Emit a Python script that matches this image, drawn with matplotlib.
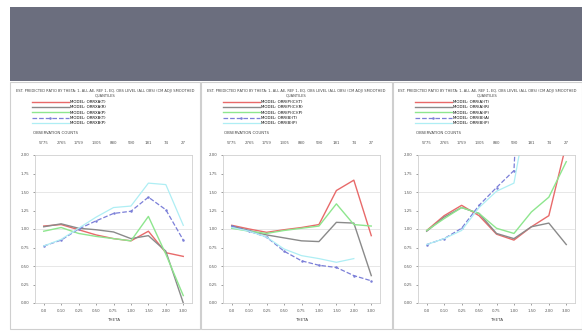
import numpy as np
import matplotlib.pyplot as plt
from matplotlib.patches import Rectangle

W, H = 582, 331

theta = ['0.0', '0.10', '0.25', '0.50', '0.75', '1.00', '1.50', '2.00', '3.00']
counts = ['5775', '2765', '1759', '1305', '880', '590', '181', '74', '27']
yticks = [0.0, 0.25, 0.5, 0.75, 1.0, 1.25, 1.5, 1.75, 2.0]

title = ('EST. PREDICTED RATIO BY THETA: 1, ALL AE, REF 1, EQ. OBS LEVEL (ALL OBS) (CM ADJ) SMOOTHED\n'
         'QUANTILES')

# panel 1
p1_labels = ['MODEL: ORRXA(T)', 'MODEL: ORRXA(R)', 'MODEL: ORRXA(P)', 'MODEL: ORRXB(T)', 'MODEL: ORRXB(P)']
p1_red = [1.04, 1.06, 0.99, 0.92, 0.87, 0.84, 0.97, 0.68, 0.63]
p1_gray = [1.03, 1.07, 1.01, 0.99, 0.96, 0.87, 0.91, 0.70, 0.00]
p1_green = [0.97, 1.02, 0.94, 0.90, 0.87, 0.84, 1.17, 0.66, 0.10]
p1_blue = [0.77, 0.85, 1.00, 1.11, 1.21, 1.24, 1.43, 1.26, 0.85]
p1_cyan = [0.77, 0.86, 1.01, 1.16, 1.29, 1.31, 1.62, 1.60, 1.05]

# panel 2
p2_labels = ['MODEL: ORR(P)(C)(T)', 'MODEL: ORR(P)(C)(R)', 'MODEL: ORR(P)(C)(P)', 'MODEL: ORR(B)(T)', 'MODEL: ORR(B)(P)']
p2_red = [1.05, 1.00, 0.955, 0.99, 1.02, 1.06, 1.52, 1.66, 0.91]
p2_gray = [1.04, 0.98, 0.92, 0.88, 0.84, 0.83, 1.09, 1.08, 0.37]
p2_green = [1.01, 0.97, 0.94, 0.98, 1.01, 1.04, 1.34, 1.06, 1.04]
p2_blue = [1.04, 0.97, 0.89, 0.70, 0.57, 0.51, 0.48, 0.37, 0.30]
p2_cyan = [1.02, 0.97, 0.89, 0.73, 0.64, 0.60, 0.55, 0.60, np.nan]

# panel 3
p3_labels = ['MODEL: ORR(A)(T)', 'MODEL: ORR(A)(R)', 'MODEL: ORR(A)(P)', 'MODEL: ORR(B)(A)', 'MODEL: ORR(B)(P)']
p3_red = [0.98, 1.18, 1.32, 1.18, 0.93, 0.85, 1.03, 1.18, 2.15]
p3_gray = [0.97, 1.16, 1.29, 1.21, 0.94, 0.87, 1.03, 1.08, 0.79]
p3_green = [0.98, 1.14, 1.29, 1.21, 1.01, 0.94, 1.23, 1.43, 1.91]
p3_blue = [0.79, 0.87, 1.01, 1.32, 1.56, 1.79, 6.5, np.nan, np.nan]
p3_cyan = [0.79, 0.87, 0.98, 1.29, 1.51, 1.62, 2.9, np.nan, np.nan]

panels = [
    (p1_labels, p1_red, p1_gray, p1_green, p1_blue, p1_cyan),
    (p2_labels, p2_red, p2_gray, p2_green, p2_blue, p2_cyan),
    (p3_labels, p3_red, p3_gray, p3_green, p3_blue, p3_cyan),
]

colors = ['#e86a6a', '#8a8a8a', '#8ee68e', '#7b7fd8', '#aeeef4']


def fx(px):
    return px / W


def fy(py):
    return 1 - py / H


fig = plt.figure(figsize=(W / 100, H / 100), dpi=100)
fig.patch.set_facecolor('white')

# banner
fig.patches.append(Rectangle((fx(10), fy(81)), fx(572), 74 / H, transform=fig.transFigure,
                             facecolor='#6b6e7e', edgecolor='none', zorder=-2))

panel_x = [10, 201, 393]
panel_w = [190, 191, 189]
axes_left = [35, 223, 418]

for i, (labels, red, gray, green, blue, cyan) in enumerate(panels):
    px0 = panel_x[i]
    fig.patches.append(Rectangle((fx(px0), fy(329)), fx(panel_w[i]), 247 / H, transform=fig.transFigure,
                                 facecolor='white', edgecolor='#cfcfcf', linewidth=0.8, zorder=-2))

    ax = fig.add_axes([fx(axes_left[i]), fy(303), fx(157), 148 / H])
    ax.patch.set_alpha(0)
    x = np.arange(len(theta))
    lines = []
    for vals, c in zip([red, gray, green], colors[:3]):
        lines.append(ax.plot(x, vals, color=c, lw=1.0)[0])
    lines.append(ax.plot(x, blue, color=colors[3], lw=0.9, ls='--', marker='.', ms=1.6)[0])
    lines.append(ax.plot(x, cyan, color=colors[4], lw=0.9)[0])

    ax.set_xlim(-0.5, 8.5)
    ax.set_ylim(0, 2)
    ax.set_yticks(yticks)
    ax.set_yticklabels([f'{v:.2f}' for v in yticks])
    ax.set_xticks(x)
    ax.set_xticklabels(theta)
    ax.tick_params(labelsize=2.8, length=1.5, width=0.4, colors='#555555', pad=2.5)
    ax.set_xlabel('THETA', fontsize=3, color='#444444', labelpad=4)
    for y in [0.5, 1.0, 1.5]:
        ax.axhline(y, color='#dddddd', lw=0.5, zorder=0)
    for s in ax.spines.values():
        s.set_color('#d0d0d0')
        s.set_linewidth(0.6)

    top = ax.secondary_xaxis('top')
    top.set_xticks(x)
    top.set_xticklabels(counts)
    top.tick_params(labelsize=2.8, length=0, colors='#555555', pad=7)
    top.spines['top'].set_visible(False)

    cx = px0 + panel_w[i] / 2
    fig.text(fx(cx), fy(89), title, fontsize=2.6, ha='center', va='top', color='#444444', linespacing=1.3)
    fig.text(fx(px0 + 23), fy(133), 'OBSERVATION COUNTS', fontsize=2.8, ha='left', va='center', color='#444444')

    ax.legend(lines, labels, loc='upper left', bbox_to_anchor=(fx(px0 + 22), fy(100)),
              bbox_transform=fig.transFigure, frameon=False, fontsize=2.8, handlelength=9.5,
              labelspacing=0.35, handletextpad=0.3, borderpad=0, borderaxespad=0)

fig.savefig('out.png', dpi=100, facecolor='white')
